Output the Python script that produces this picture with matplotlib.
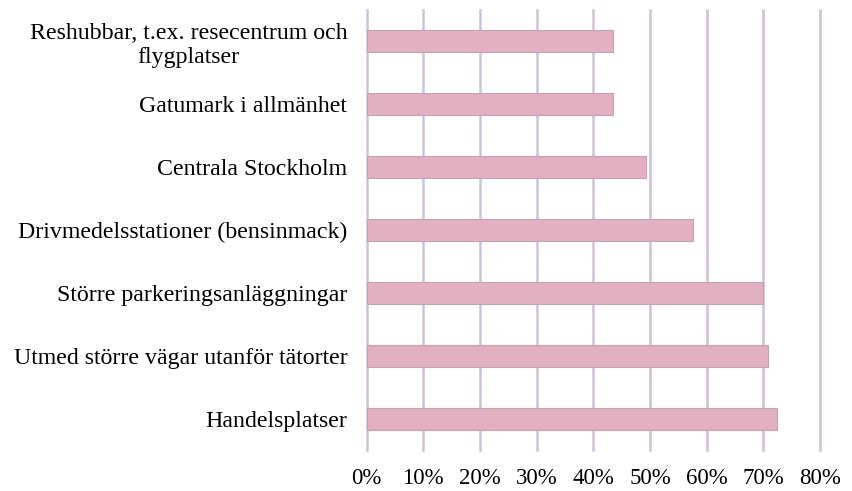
import matplotlib
matplotlib.use("Agg")
import matplotlib.pyplot as plt
import numpy as np

plt.rcParams['font.family'] = ['Liberation Serif', 'DejaVu Serif']

# data, top to bottom as in the picture
categories = ["Reshubbar, t.ex. resecentrum och\nflygplatser",
              "Gatumark i allmänhet",
              "Centrala Stockholm",
              "Drivmedelsstationer (bensinmack)",
              "Större parkeringsanläggningar",
              "Utmed större vägar utanför tätorter",
              "Handelsplatser"]
values = [0.434, 0.434, 0.493, 0.576, 0.699, 0.708, 0.725]
xticks = [0, 0.1, 0.2, 0.3, 0.4, 0.5, 0.6, 0.7, 0.8]
xticklabels = ["0%", "10%", "20%", "30%", "40%", "50%", "60%", "70%", "80%"]

fig = plt.figure(figsize=(8.52, 4.91), dpi=100)
ax = fig.add_axes([0.4304, 0.0835, 0.5320, 0.8961])

y = np.arange(len(categories))[::-1]
ax.barh(y, values, height=0.35, color="#e3b0c1", edgecolor="#c2a3b0", linewidth=0.8, zorder=2)

ax.set_xlim(0, 0.8)
ax.set_ylim(-0.5, len(categories) - 0.5)
ax.set_xticks(xticks)
ax.set_xticklabels(xticklabels, fontsize=16.5)
ax.set_yticks(y)
ax.set_yticklabels(categories, fontsize=17.2, multialignment="center", linespacing=1.2)
ax.tick_params(axis="both", length=0)
ax.tick_params(axis="y", pad=14)
ax.tick_params(axis="x", pad=13)
ax.xaxis.grid(True, color="#cdc2d7", linewidth=1.8)
for gl in ax.get_xgridlines():
    gl.set_clip_on(False)
ax.set_axisbelow(True)
for s in ax.spines.values():
    s.set_visible(False)

fig.savefig("out.png", dpi=100)
